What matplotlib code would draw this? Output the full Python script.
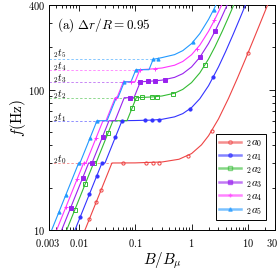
import numpy as np
import matplotlib
matplotlib.use("Agg")
import matplotlib.pyplot as plt
import matplotlib.transforms as mtransforms
from matplotlib.lines import Line2D
from matplotlib.ticker import FixedLocator, FixedFormatter, NullFormatter

plt.rcParams['mathtext.fontset'] = 'cm'
plt.rcParams['font.family'] = ['DejaVu Serif']

# ---------------- data ----------------
labels = [r'${}_2a_0$', r'${}_2a_1$', r'${}_2a_2$', r'${}_2a_3$', r'${}_2a_4$', r'${}_2a_5$']
level_labels = [r'${}_2t_0$', r'${}_2t_1$', r'${}_2t_2$', r'${}_2t_3$', r'${}_2t_4$', r'${}_2t_5$']
levels = [30, 60, 87.5, 113.5, 138.5, 164]
level_end_B = [0.039, 0.0588, 0.1051, 0.1241, 0.1218, 0.2091]

B0 = [0.013, 0.039, 0.1, 0.3, 0.6, 1.0, 1.5, 2.0, 3.0, 4.5, 6.5, 9.0, 12, 16, 20, 25]
f0 = [10, 30, 30.05, 30.5, 31.9, 35.0, 40.4, 46.9, 61.8, 86.4, 120.8, 164.8, 218.1, 289.6, 361.2, 451.0]

B1 = [0.00865, 0.02595, 0.02938, 0.0588, 0.1, 0.2, 0.3, 0.5, 0.7, 1.0, 1.4, 2.0, 3.0, 4.0, 5.5, 7.0, 9.0, 10]
f1 = [10, 30, 30, 60, 60.2, 60.6, 61.4, 63.9, 67.4, 74.4, 86.0, 106.5, 145.0, 185.9, 249.3, 313.8, 400.5, 443]

B2 = [0.00617, 0.01851, 0.02037, 0.0407, 0.0721, 0.1051, 0.2, 0.3, 0.5, 0.7, 1.0, 1.4, 2.0, 2.6, 3.5, 4.5, 5.5, 6.5]
f2 = [10, 30, 30, 60, 60, 87.5, 88.6, 90.0, 94.2, 100.3, 112.1, 131.4, 165.1, 201.9, 260.2, 326.9, 394.8, 463.3]

B3 = [0.00503, 0.01509, 0.0173, 0.0346, 0.0442, 0.0644, 0.0957, 0.1241, 0.2, 0.3, 0.5, 0.7, 1.0, 1.4, 2.0, 2.6, 3.2, 4.0, 4.5]
f3 = [10, 30, 30, 60, 60, 87.5, 87.5, 113.5, 114.9, 116.7, 122.1, 129.8, 144.9, 169.6, 212.8, 260.1, 309.6, 377.5, 420.6]

B4 = [0.0041, 0.0123, 0.01355, 0.0271, 0.0306, 0.0446, 0.0479, 0.0621, 0.0998, 0.1218, 0.2, 0.3, 0.5, 0.7, 1.0, 1.4, 2.0, 2.5, 3.0, 3.5]
f4 = [10, 30, 30, 60, 60, 87.5, 87.5, 113.5, 113.5, 138.5, 140.2, 142.4, 149.0, 158.5, 176.9, 207.1, 260.0, 307.9, 357.9, 409.2]

B5 = [0.00335, 0.01005, 0.0106, 0.0212, 0.0319, 0.0465, 0.0499, 0.0647, 0.0847, 0.1034, 0.1766, 0.2091, 0.3, 0.5, 0.7, 1.0, 1.4, 2.0, 2.5, 3.0]
f5 = [10, 30, 30, 60, 60, 87.5, 87.5, 113.5, 113.5, 138.5, 138.5, 164, 168.9, 177.3, 189.3, 212.4, 250.2, 315.9, 375.2, 436.9]

# marker points
Bm0 = [0.0155, 0.0204, 0.025, 0.062, 0.156, 0.21, 0.265, 0.875, 2.27, 10]
fm0 = [11.9, 15.7, 19.2, 30, 30, 30, 30.1, 33.9, 50.7, 182.5]
Bm1 = [0.0106, 0.0155, 0.0209, 0.026, 0.045, 0.0588, 0.15, 0.197, 0.265, 0.94, 2.43]
fm1 = [12.3, 17.9, 24.2, 30, 45.9, 60, 60.4, 60.6, 61.1, 72.9, 122.6]
Bm2 = [0.0085, 0.013, 0.0185, 0.0332, 0.0895, 0.105, 0.131, 0.197, 0.241, 0.475, 1.73]
fm2 = [13.8, 21.1, 30, 48.9, 74.5, 87.5, 88.0, 88.6, 89.1, 93.5, 149.4]
Bm3 = [0.00726, 0.0118, 0.0173, 0.0266, 0.0815, 0.1241, 0.1716, 0.2254, 0.339, 1.41, 2.6]
fm3 = [14.4, 23.5, 30, 46.1, 87.5, 113.5, 114.5, 115.3, 117.5, 170.5, 260.1]
Bm4 = [0.006, 0.0095, 0.0123, 0.0203, 0.046, 0.0621, 0.085, 0.1218, 0.2254, 1.25, 2.53]
fm4 = [14.6, 23.2, 30, 44.9, 87.5, 113.5, 113.5, 138.5, 140.7, 195.2, 310.6]
Bm5 = [0.0045, 0.00594, 0.0100, 0.016, 0.0212, 0.0647, 0.1034, 0.21, 0.26, 1.07, 2.45]
fm5 = [13.4, 17.7, 30, 45.3, 60, 113.5, 138.5, 164, 166.0, 218, 369.2]

x_ticks = [0.003, 0.01, 0.1, 1, 10, 30]
x_ticklabels = ['0.003', '0.01', '0.1', '1', '10', '30']
y_ticks = [10, 100, 400]
y_ticklabels = ['10', '100', '400']

# ---------------- styling ----------------
colors = ['#ee4444', '#3333ff', '#33bb33', '#9922ee', '#ff33ff', '#2299ff']
markers = ['o', 'o', 's', 's', '+', '^']
mfcs = ['none', None, 'none', None, None, None]
label_lift = [1.012, 1.012, 1.012, 1.012, 1.0, 1.045]

Bs = [B0, B1, B2, B3, B4, B5]
fs = [f0, f1, f2, f3, f4, f5]
Bms = [Bm0, Bm1, Bm2, Bm3, Bm4, Bm5]
fms = [fm0, fm1, fm2, fm3, fm4, fm5]

fig = plt.figure(figsize=(2.79, 2.73), dpi=100)
ax = fig.add_axes([49/279, 1-230/273, (275-49)/279, (230-5)/273])
ax.set_xscale('log')
ax.set_yscale('log')
ax.set_xlim(0.003, 30)
ax.set_ylim(10, 400)

# dashed level lines
for lev, be, c in zip(levels, level_end_B, colors):
    ax.plot([0.003, be], [lev, lev], ls=(0, (2.5, 2)), color=c, lw=0.7, alpha=0.55, zorder=1)
for lev, lab, lift in zip(levels, level_labels, label_lift):
    ax.text(0.0036, lev*lift, lab, fontsize=7.2, ha='left', va='baseline', zorder=5)

for B, f, Bm, fm, c, m, mfc in zip(Bs, fs, Bms, fms, colors, markers, mfcs):
    ax.plot(B, f, color=c, lw=0.8, zorder=3)
    kw = dict(markerfacecolor=mfc) if mfc is not None else {}
    ax.plot(Bm, fm, ls='none', marker=m, ms=2.3, color=c, mew=0.7, zorder=4, **kw)

ax.xaxis.set_major_locator(FixedLocator(x_ticks))
ax.xaxis.set_major_formatter(FixedFormatter(['$%s$' % t for t in x_ticklabels]))
ax.xaxis.set_minor_formatter(NullFormatter())
ax.yaxis.set_major_locator(FixedLocator(y_ticks))
ax.yaxis.set_major_formatter(FixedFormatter(['$%s$' % t for t in y_ticklabels]))
ax.yaxis.set_minor_formatter(NullFormatter())
ax.tick_params(which='both', direction='in', top=True, right=True, labelsize=7.5, width=0.6)
ax.tick_params(which='major', length=4, pad=3)
ax.tick_params(axis='x', which='major', pad=5)
ax.tick_params(which='minor', length=2)
for s in ax.spines.values():
    s.set_linewidth(0.7)

# shift the edge labels slightly inward so they stay inside the canvas
fig.canvas.draw()
xlabs = ax.get_xticklabels()
xlabs[-1].set_transform(xlabs[-1].get_transform() +
                        mtransforms.ScaledTranslation(-3/100, 0, fig.dpi_scale_trans))
xlabs[0].set_transform(xlabs[0].get_transform() +
                       mtransforms.ScaledTranslation(-1/100, 0, fig.dpi_scale_trans))

ax.set_xlabel(r'$B/B_\mu$', fontsize=11, labelpad=1)
ax.set_ylabel(r'$f(\mathrm{Hz})$', fontsize=11, labelpad=0)
ax.text(0.035, 0.95, r'$\mathrm{(a)}\ \Delta r/R=0.95$', transform=ax.transAxes,
        fontsize=9.5, ha='left', va='top')

handles = [Line2D([], [], color=c, lw=1.8, alpha=0.6, marker=m, ms=2.5,
                  markerfacecolor=(c if mfc is None else 'none'), markeredgecolor=c)
           for c, m, mfc in zip(colors, markers, mfcs)]
leg = ax.legend(handles, labels, loc='lower right', fontsize=8, frameon=True,
                fancybox=False, edgecolor='black', framealpha=1, handlelength=1.9,
                handletextpad=0.5, borderpad=0.3, labelspacing=0.14,
                bbox_to_anchor=(0.985, 0.02))
leg.get_frame().set_linewidth(0.7)

fig.savefig('out.png', dpi=100)
